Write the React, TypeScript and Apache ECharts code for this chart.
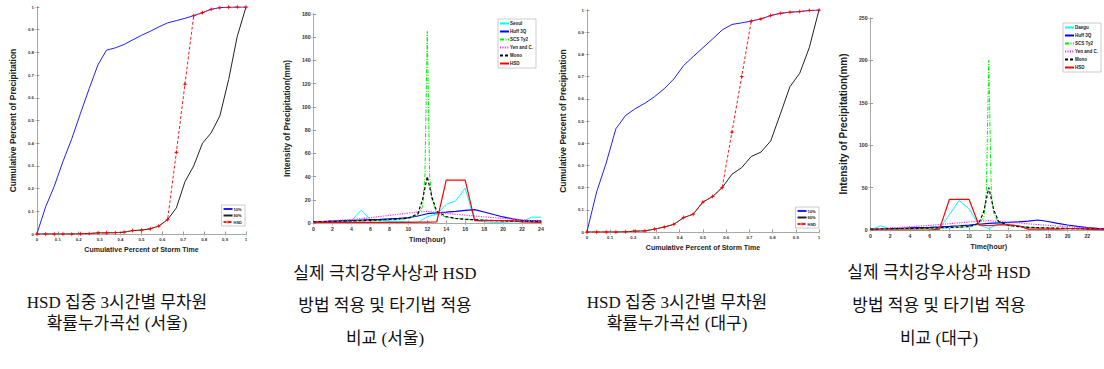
import React, { useEffect, useRef } from "react";
import * as echarts from "echarts";

// ---------- data ----------
const cumX = [0, 0.042, 0.083, 0.125, 0.167, 0.208, 0.25, 0.292, 0.333, 0.375, 0.417, 0.458, 0.5, 0.542, 0.583, 0.625, 0.667, 0.708, 0.75, 0.792, 0.833, 0.875, 0.917, 0.958, 1];

const seoul10 = [0, 0.12, 0.21, 0.32, 0.42, 0.53, 0.64, 0.745, 0.81, 0.82, 0.835, 0.855, 0.875, 0.893, 0.912, 0.93, 0.94, 0.95, 0.962, 0.975, 0.99, 0.997, 0.999, 1, 1];
const seoul90 = [0, 0, 0, 0, 0, 0.001, 0.002, 0.005, 0.005, 0.006, 0.008, 0.015, 0.017, 0.023, 0.035, 0.063, 0.115, 0.23, 0.3, 0.4, 0.445, 0.52, 0.68, 0.87, 1];
const seoulHSD = [0, 0, 0, 0, 0, 0.001, 0.002, 0.005, 0.005, 0.006, 0.008, 0.015, 0.017, 0.023, 0.035, 0.063, 0.36, 0.66, 0.962, 0.975, 0.99, 0.997, 0.999, 1, 1];

const daegu10 = [0, 0.18, 0.31, 0.465, 0.525, 0.555, 0.58, 0.61, 0.645, 0.69, 0.75, 0.79, 0.83, 0.87, 0.91, 0.935, 0.942, 0.95, 0.96, 0.975, 0.985, 0.99, 0.993, 0.998, 1];
const daegu90 = [0, 0, 0, 0, 0.001, 0.004, 0.005, 0.013, 0.022, 0.035, 0.065, 0.08, 0.135, 0.16, 0.2, 0.26, 0.29, 0.34, 0.36, 0.41, 0.53, 0.655, 0.715, 0.83, 1];
const daeguHSD = [0, 0, 0, 0, 0.001, 0.004, 0.005, 0.013, 0.022, 0.035, 0.065, 0.08, 0.135, 0.16, 0.2, 0.45, 0.7, 0.95, 0.96, 0.975, 0.985, 0.99, 0.993, 0.998, 1];

const hours = [0, 1, 2, 3, 4, 5, 6, 7, 8, 9, 10, 11, 12, 13, 14, 15, 16, 17, 18, 19, 20, 21, 22, 23, 24];

const seoulObs = [0.5, 1, 1, 1.5, 2, 11, 3, 2, 1.5, 1.5, 1, 0.3, 5.5, 7.5, 16, 19, 30, 2, 1, 0.5, 0.5, 1, 1, 5, 5];
const seoulHuff = [0.8, 1.2, 1.6, 2, 2.3, 2.6, 2.9, 3.2, 3.6, 4, 4.6, 6, 8, 8.7, 9.3, 10, 10.8, 11.5, 9.5, 7.3, 5.2, 3.5, 2.2, 2, 1.8];
const seoulYen = [1, 1.5, 2, 2.5, 3, 3.8, 4.6, 5.6, 6.6, 7.6, 8.6, 9.5, 10, 9.2, 8.3, 7.5, 6.8, 6, 5.3, 4.6, 4, 3.4, 2.8, 2.2, 1.6];
const seoulHSDint = [0.5, 0.5, 0.5, 0.5, 0.5, 0.5, 0.5, 0.5, 0.5, 0.5, 0.5, 0.7, 0.8, 1, 37, 37, 37, 2, 2, 2, 2, 2, 1, 0.7, 0.5];

const scsT = [0, 2, 4, 6, 8, 9, 10, 10.5, 11, 11.5, 11.75, 12, 12.25, 12.5, 13, 14, 15, 16, 18, 20, 22, 24];
const seoulSCS = [1, 1.3, 1.6, 2, 2.6, 3, 4, 5, 7, 14, 40, 165, 40, 20, 8, 5, 4, 3.2, 2.5, 2, 1.6, 1.3];
const daeguSCS = [1, 1.3, 1.6, 2, 2.6, 3, 4, 5, 7, 15, 45, 200, 45, 20, 8, 5, 4, 3.2, 2.5, 2, 1.6, 1.3];

const monoT = [0, 2, 4, 6, 8, 10, 11, 11.5, 12, 12.5, 13, 14, 15, 16, 18, 20, 22, 24];
const seoulMono = [1, 1.4, 1.8, 2.3, 3, 4, 8, 20, 40, 22, 10, 5.5, 4, 3.2, 2.4, 1.8, 1.4, 1.1];
const daeguMono = [1, 1.4, 1.8, 2.3, 3, 4, 8, 22, 50, 24, 10, 5.5, 4, 3.2, 2.4, 1.8, 1.4, 1.1];

const daeguObs = [0, 5, 1, 1.5, 1.5, 1.5, 2, 2, 18, 35, 25, 6, 1.6, 7, 7, 5, 3, 2, 2, 1.5, 1.5, 1.5, 1.5, 1.5, 1.5];
const daeguHuff = [0.8, 1.2, 1.6, 2, 2.4, 2.8, 3.2, 3.7, 4.3, 5, 5.8, 6.8, 7.9, 8.5, 9, 9.6, 10.5, 11.8, 10, 7.9, 5.9, 4.3, 2.8, 2, 1.5];
const daeguYen = [1, 1.7, 2.4, 3.1, 3.9, 4.7, 5.5, 6.5, 7.5, 8.5, 9.5, 10.5, 11, 10.3, 9.3, 8.3, 7.3, 6.4, 5.5, 4.7, 4, 3.2, 2.5, 2, 1.5];
const daeguHSDint = [0, 0, 0, 0, 0, 0, 0, 1, 36, 36, 36, 6, 5, 6, 6, 5, 1, 1, 1, 1, 1.5, 1.5, 1, 0.5, 0];

const cumLegend = ["10%", "90%", "HSD"];
const seoulLegend = ["Seoul", "Huff 3Q", "SCS Ty2", "Yen and C.", "Mono", "HSD"];
const daeguLegend = ["Daegu", "Huff 3Q", "SCS Ty2", "Yen and C.", "Mono", "HSD"];

const cap1 = ["HSD 집중 3시간별 무차원", "확률누가곡선 (서울)"];
const cap2 = ["실제 극치강우사상과 HSD", "방법 적용 및 타기법 적용", "비교 (서울)"];
const cap3 = ["HSD 집중 3시간별 무차원", "확률누가곡선 (대구)"];
const cap4 = ["실제 극치강우사상과 HSD", "방법 적용 및 타기법 적용", "비교 (대구)"];

// ---------- helpers ----------
const SANS = "Liberation Sans, Arial, sans-serif";
const SERIF = "Liberation Serif, Noto Sans CJK KR, serif";
const STAR = "path://M0,-6 L1.5,-1.5 L6,0 L1.5,1.5 L0,6 L-1.5,1.5 L-6,0 L-1.5,-1.5 Z";

const zip = (xs: number[], ys: number[]) => xs.map((x, i) => [x, ys[i]]);

function axes(cfg: any) {
  const main = "#555";
  const light = "#b5b5b5";
  const lab = { fontSize: cfg.labelSize, fontWeight: "bold", color: "#333", fontFamily: SANS, margin: 3 };
  const xAxis = [
    {
      type: "value", min: cfg.xMin, max: cfg.xMax, interval: cfg.xInt, position: "bottom",
      axisLine: { show: true, lineStyle: { color: main, width: 0.8 } },
      axisTick: { show: true, inside: true, length: 2.5, lineStyle: { color: main, width: 0.6 } },
      axisLabel: { ...lab, showMaxLabel: true, showMinLabel: true },
      splitLine: { show: false },
      name: cfg.xName, nameLocation: "middle", nameGap: cfg.xGap,
      nameTextStyle: { fontSize: cfg.xNameSize, fontWeight: "bold", color: "#222", fontFamily: SANS },
    },
    {
      type: "value", min: cfg.xMin, max: cfg.xMax, interval: cfg.xInt, position: "top",
      axisLine: { show: true, lineStyle: { color: light, width: 0.8 } },
      axisTick: { show: true, inside: true, length: 2.5, lineStyle: { color: light, width: 0.6 } },
      axisLabel: { show: false }, splitLine: { show: false },
    },
  ];
  const yAxis = [
    {
      type: "value", min: cfg.yMin, max: cfg.yMax, interval: cfg.yInt, position: "left",
      axisLine: { show: true, lineStyle: { color: main, width: 0.8 } },
      axisTick: { show: true, inside: true, length: 2.5, lineStyle: { color: main, width: 0.6 } },
      axisLabel: { ...lab },
      splitLine: { show: false },
      name: cfg.yName, nameLocation: "middle", nameGap: cfg.yGap, nameRotate: 90,
      nameTextStyle: { fontSize: cfg.yNameSize, fontWeight: "bold", color: "#222", fontFamily: SANS },
    },
    {
      type: "value", min: cfg.yMin, max: cfg.yMax, interval: cfg.yInt, position: "right",
      axisLine: { show: true, lineStyle: { color: light, width: 0.8 } },
      axisTick: { show: true, inside: true, length: 2.5, lineStyle: { color: light, width: 0.6 } },
      axisLabel: { show: false }, splitLine: { show: false },
    },
  ];
  return { xAxis, yAxis };
}

function legend(data: any[], pos: any, fontSize: number, itemGap: number) {
  return {
    orient: "vertical", ...pos, data,
    itemWidth: 9, itemHeight: 5, itemGap,
    padding: [2, 3, 2, 1],
    borderColor: "#999", borderWidth: 0.5, backgroundColor: "#fff",
    itemStyle: { opacity: 0 },
    textStyle: { fontSize, fontWeight: "bold", color: "#222", fontFamily: SANS, padding: [0, 0, 0, -4] },
    selectedMode: false,
  };
}

function captions(lines: string[], cx: number, ys: number[]) {
  return lines.map((t, i) => ({
    type: "text", x: cx, y: ys[i],
    style: { text: t, fontSize: 17, fontFamily: SERIF, fill: "#111", textAlign: "center", textVerticalAlign: "middle" },
  }));
}

function line(name: string, xs: number[], ys: number[], color: string, type: any, width: number, extra: any = {}) {
  return {
    type: "line", name, data: zip(xs, ys), symbol: "none", showSymbol: false,
    lineStyle: { color, type, width }, itemStyle: { color }, ...extra,
  };
}

function cumOption(p10: number[], p90: number[], hsd: number[], g: any, leg: any, cap: any) {
  return {
    animation: false,
    grid: { left: g.left, top: g.top, width: g.width, height: g.height, containLabel: false },
    ...axes({
      xMin: 0, xMax: 1, xInt: 0.1, yMin: 0, yMax: 1, yInt: 0.1, labelSize: 4.3,
      xName: "Cumulative Percent of Storm Time", xGap: g.xGap, xNameSize: 7,
      yName: "Cumulative Percent of Precipitation", yGap: g.yGap, yNameSize: 8.5,
    }),
    legend: legend(["10%", "90%", { name: "HSD", itemStyle: { opacity: 1 } }].map((d, i) => (typeof d === "string" ? cumLegend[i] : d)), leg, 4, 2.5),
    series: [
      line("10%", cumX, p10, "#1f1fff", "solid", 1),
      line("90%", cumX, p90, "#222", "solid", 1),
      line("HSD", cumX, hsd, "#ff1a1a", [3, 2], 1, {
        symbol: STAR, symbolSize: 5, showSymbol: true, showAllSymbol: true,
        itemStyle: { color: "#ff0000" },
      }),
    ],
    graphic: captions(cap.lines, cap.cx, cap.ys),
  };
}

function intOption(obsName: string, d: any, g: any, leg: any, cap: any, legData: string[]) {
  return {
    animation: false,
    grid: { left: g.left, top: g.top, width: g.width, height: g.height, containLabel: false },
    ...axes({
      xMin: 0, xMax: 24, xInt: 2, yMin: 0, yMax: g.yMax, yInt: g.yInt, labelSize: 5.2,
      xName: "Time(hour)", xGap: g.xGap, xNameSize: 7,
      yName: "Intensity of Precipitation(mm)", yGap: g.yGap, yNameSize: g.yNameSize,
    }),
    legend: legend(legData, leg, 4.5, 3),
    series: [
      line(obsName, hours, d.obs, "#00ffff", "solid", 1),
      line("Huff 3Q", hours, d.huff, "#0000ff", "solid", 1.2),
      line("SCS Ty2", scsT, d.scs, "#00ee00", [4, 1.5, 1, 1.5], 1),
      line("Yen and C.", hours, d.yen, "#ff33ff", [1.2, 1.2], 1.2),
      line("Mono", monoT, d.mono, "#000000", [3, 2], 1.2),
      line("HSD", hours, d.hsd, "#ff0000", "solid", 1.2),
    ],
    graphic: captions(cap.lines, cap.cx, cap.ys),
  };
}

function ChartBox({ left, width, option }: { left: number; width: number; option: any }) {
  const ref = useRef<HTMLDivElement>(null);
  useEffect(() => {
    if (!ref.current) return;
    const chart = echarts.init(ref.current, null, { renderer: "svg" });
    chart.setOption(option);
    return () => chart.dispose();
  }, []);
  return <div ref={ref} style={{ position: "absolute", left, top: 0, width, height: 369 }} />;
}

export default function App() {
  const o1 = cumOption(seoul10, seoul90, seoulHSD,
    { left: 22, top: 7, width: 224, height: 227, xGap: 12, yGap: 8 },
    { right: 30, top: 205 },
    { lines: cap1, cx: 117, ys: [302, 323] });
  const o2 = intOption("Seoul",
    { obs: seoulObs, huff: seoulHuff, scs: seoulSCS, yen: seoulYen, mono: seoulMono, hsd: seoulHSDint },
    { left: 37, top: 14, width: 229, height: 209, yMax: 180, yInt: 20, xGap: 12, yGap: 9, yNameSize: 8.3 },
    { right: 14, top: 19 },
    { lines: cap2, cx: 110, ys: [273, 305, 338] }, seoulLegend);
  const o3 = cumOption(daegu10, daegu90, daeguHSD,
    { left: 26, top: 10, width: 243, height: 222, xGap: 12, yGap: 10 },
    { right: 11, top: 207 },
    { lines: cap3, cx: 127, ys: [302, 323] });
  const o4 = intOption("Daegu",
    { obs: daeguObs, huff: daeguHuff, scs: daeguSCS, yen: daeguYen, mono: daeguMono, hsd: daeguHSDint },
    { left: 33, top: 18, width: 244, height: 212, yMax: 250, yInt: 50, xGap: 13, yGap: 10, yNameSize: 10 },
    { left: 233, top: 23 },
    { lines: cap4, cx: 109, ys: [272, 305, 338] }, daeguLegend);
  return (
    <div style={{ position: "absolute", left: 0, top: 0, width: 1104, height: 369, overflow: "hidden", background: "#fff" }}>
      <ChartBox left={0} width={275} option={o1} />
      <ChartBox left={275} width={275} option={o2} />
      <ChartBox left={550} width={280} option={o3} />
      <ChartBox left={830} width={300} option={o4} />
    </div>
  );
}
